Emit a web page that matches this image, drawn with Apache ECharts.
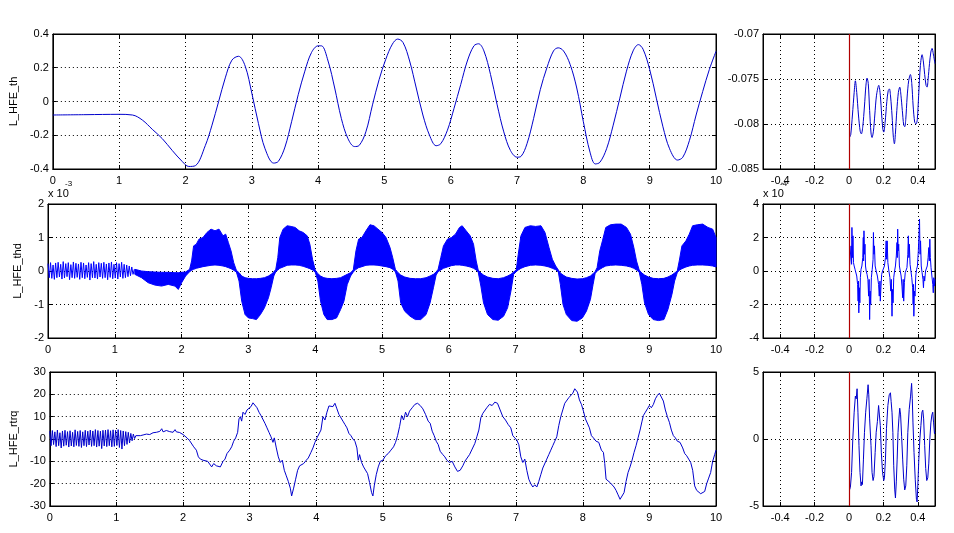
<!DOCTYPE html>
<html><head><meta charset="utf-8">
<script src="https://cdn.jsdelivr.net/npm/echarts@6/dist/echarts.min.js"></script>
<style>html,body{margin:0;padding:0;background:#fff}#c{width:954px;height:533px}</style>
</head><body><div id="c"></div>
<script>
// ---------- tick labels ----------
const leftXTicks = [0,1,2,3,4,5,6,7,8,9,10];
const rightXTicks = [-0.4,-0.2,0,0.2,0.4];
const yNames = ['L_HFE_th','L_HFE_thd','L_HFE_rtrq'];

// ---------- L_HFE_th (full range) ----------
const thT = [0,0.5,1.0,1.2,1.35,1.5,1.65,1.8,1.95,2.05,2.15,2.3,2.4,2.5,2.6,2.7,2.8,2.9,3.0,3.1,3.2,3.33,3.4,3.5,3.6,3.7,3.8,3.9,4.0,4.05,4.15,4.25,4.35,4.45,4.55,4.62,4.72,4.82,4.92,5.02,5.12,5.2,5.28,5.38,5.48,5.58,5.68,5.78,5.85,5.95,6.05,6.15,6.25,6.35,6.42,6.5,6.6,6.7,6.8,6.9,7.0,7.06,7.15,7.25,7.35,7.45,7.55,7.62,7.7,7.8,7.9,8.0,8.1,8.18,8.25,8.35,8.45,8.55,8.65,8.75,8.83,8.9,9.0,9.1,9.2,9.3,9.42,9.5,9.6,9.7,9.8,9.9,10.0];
const thV = [-0.08,-0.078,-0.076,-0.08,-0.11,-0.165,-0.22,-0.29,-0.355,-0.385,-0.38,-0.26,-0.14,0.0,0.14,0.245,0.268,0.21,0.05,-0.13,-0.28,-0.365,-0.355,-0.27,-0.12,0.04,0.18,0.29,0.33,0.33,0.24,0.08,-0.1,-0.22,-0.267,-0.26,-0.18,-0.02,0.13,0.25,0.34,0.37,0.35,0.24,0.08,-0.08,-0.2,-0.262,-0.25,-0.17,-0.04,0.1,0.24,0.33,0.342,0.3,0.16,-0.02,-0.18,-0.29,-0.33,-0.325,-0.25,-0.1,0.07,0.2,0.3,0.318,0.3,0.22,0.08,-0.12,-0.3,-0.37,-0.36,-0.28,-0.14,0.02,0.18,0.3,0.337,0.31,0.19,0.02,-0.15,-0.28,-0.347,-0.33,-0.23,-0.08,0.06,0.19,0.297];

// ---------- L_HFE_th (zoomed start) ----------
const thZT = [0.003,0.01,0.02,0.03,0.037,0.045,0.055,0.065,0.072,0.08,0.09,0.098,0.105,0.112,0.12,0.128,0.134,0.142,0.15,0.16,0.173,0.182,0.19,0.197,0.202,0.21,0.22,0.228,0.235,0.242,0.25,0.258,0.264,0.27,0.278,0.287,0.295,0.302,0.31,0.318,0.324,0.33,0.338,0.347,0.357,0.365,0.373,0.382,0.39,0.397,0.405,0.415,0.425,0.432,0.44,0.448,0.454,0.46,0.468,0.476,0.483,0.49,0.5];
const thZV = [-0.0815,-0.0812,-0.079,-0.0765,-0.0752,-0.0765,-0.079,-0.0808,-0.0811,-0.0803,-0.078,-0.0758,-0.0749,-0.0755,-0.0785,-0.081,-0.0815,-0.0808,-0.079,-0.0768,-0.0757,-0.0768,-0.079,-0.0806,-0.0809,-0.0798,-0.0775,-0.0763,-0.0761,-0.077,-0.079,-0.0815,-0.0822,-0.081,-0.0785,-0.0765,-0.0759,-0.0768,-0.0785,-0.0801,-0.0803,-0.0795,-0.077,-0.0752,-0.0745,-0.0755,-0.078,-0.0798,-0.08,-0.0795,-0.0768,-0.0735,-0.0723,-0.073,-0.0745,-0.0757,-0.0759,-0.075,-0.0733,-0.072,-0.0716,-0.0722,-0.0733];

// ---------- L_HFE_thd (x1e-3) ----------
const earlyStep = 0.019;
const thdEarly = [0.22,-0.2,0.25,-0.22,0.18,-0.25,0.24,-0.2,0.26,-0.18,0.2,-0.24,0.28,-0.21,0.22,-0.17,0.25,-0.26,0.19,-0.2,0.27,-0.22,0.23,-0.19,0.21,-0.25,0.26,-0.2,0.24,-0.23,0.18,-0.19,0.25,-0.27,0.22,-0.2,0.28,-0.21,0.2,-0.24,0.25,-0.18,0.23,-0.22,0.26,-0.2,0.21,-0.26,0.24,-0.19,0.27,-0.23,0.2,-0.21,0.25,-0.24,0.22,-0.18,0.26,-0.22,0.2,-0.2,0.18,-0.17,0.15,-0.14,0.12,-0.1,0.05];
const thdT  = [1.30,1.40,1.50,1.60,1.70,1.80,1.90,1.95,2.00,2.06,2.12,2.15,2.18,2.22,2.26,2.32,2.38,2.44,2.50,2.56,2.62,2.66,2.70,2.74,2.78,2.82,2.86,2.90,2.95,3.00,3.06,3.12,3.18,3.24,3.30,3.34,3.38,3.41,3.44,3.47,3.52,3.58,3.64,3.70,3.76,3.82,3.88,3.92,3.96,4.00,4.04,4.08,4.13,4.18,4.25,4.32,4.38,4.43,4.48,4.53,4.57,4.61,4.65,4.70,4.76,4.82,4.88,4.94,5.00,5.06,5.12,5.16,5.20,5.24,5.28,5.34,5.42,5.50,5.58,5.66,5.72,5.77,5.81,5.84,5.88,5.92,5.98,6.04,6.10,6.16,6.20,6.26,6.32,6.37,6.41,6.44,6.48,6.52,6.58,6.66,6.74,6.82,6.88,6.93,6.97,7.01,7.04,7.08,7.14,7.22,7.30,7.38,7.44,7.50,7.55,7.60,7.64,7.67,7.71,7.76,7.84,7.92,8.00,8.06,8.12,8.16,8.19,8.22,8.26,8.30,8.35,8.42,8.50,8.58,8.66,8.72,8.77,8.81,8.85,8.89,8.93,8.99,9.06,9.14,9.22,9.28,9.34,9.38,9.42,9.45,9.49,9.55,9.60,9.65,9.72,9.80,9.88,9.95,10.00];
const thdHi = [0.05,0.0,-0.02,-0.03,-0.04,-0.04,-0.05,-0.05,-0.04,-0.03,0.05,0.3,0.75,0.8,0.95,1.0,1.15,1.25,1.2,1.25,1.05,1.1,0.85,0.6,0.25,0.02,-0.05,-0.15,-0.2,-0.22,-0.23,-0.23,-0.22,-0.2,-0.15,-0.1,-0.03,0.05,0.4,1.0,1.25,1.35,1.33,1.3,1.2,1.15,1.05,0.8,0.35,0.03,-0.08,-0.15,-0.2,-0.22,-0.23,-0.22,-0.2,-0.15,-0.1,-0.05,0.03,0.6,0.95,1.0,1.2,1.38,1.35,1.25,1.15,1.0,0.7,0.4,0.05,-0.05,-0.12,-0.18,-0.22,-0.23,-0.23,-0.2,-0.15,-0.1,-0.03,0.05,0.4,0.75,0.95,1.0,1.1,1.3,1.35,1.2,1.05,0.8,0.3,0.03,-0.06,-0.12,-0.18,-0.22,-0.23,-0.2,-0.15,-0.1,-0.03,0.03,0.5,1.05,1.3,1.35,1.33,1.35,1.15,0.7,0.35,0.15,0.03,-0.06,-0.12,-0.18,-0.22,-0.24,-0.23,-0.2,-0.15,-0.08,-0.02,0.1,0.6,0.9,1.3,1.38,1.4,1.4,1.3,1.1,0.7,0.3,0.03,-0.06,-0.12,-0.18,-0.22,-0.23,-0.22,-0.18,-0.12,-0.06,0.0,0.3,0.75,0.9,1.1,1.35,1.38,1.4,1.3,1.25,1.0];
const thdLo = [-0.1,-0.2,-0.35,-0.42,-0.45,-0.4,-0.45,-0.55,-0.35,-0.15,-0.02,0.02,0.05,0.08,0.1,0.13,0.15,0.17,0.18,0.17,0.15,0.13,0.1,0.07,0.02,-0.03,-0.3,-0.9,-1.3,-1.4,-1.42,-1.45,-1.3,-1.1,-0.8,-0.5,-0.15,-0.02,0.03,0.08,0.12,0.17,0.18,0.18,0.17,0.14,0.1,0.07,0.03,-0.03,-0.3,-0.9,-1.3,-1.45,-1.45,-1.4,-1.15,-0.9,-0.4,-0.15,-0.03,0.05,0.1,0.13,0.17,0.18,0.18,0.17,0.15,0.13,0.1,0.05,-0.02,-0.3,-0.95,-1.2,-1.35,-1.45,-1.45,-1.3,-0.95,-0.5,-0.12,-0.02,0.03,0.08,0.12,0.16,0.18,0.18,0.17,0.15,0.12,0.08,0.03,-0.03,-0.45,-0.95,-1.3,-1.45,-1.47,-1.35,-1.1,-0.6,-0.1,-0.02,0.03,0.08,0.13,0.17,0.18,0.17,0.15,0.12,0.08,0.04,-0.03,-0.4,-1.0,-1.3,-1.48,-1.5,-1.4,-1.2,-0.85,-0.4,-0.08,0.0,0.05,0.1,0.15,0.17,0.18,0.17,0.15,0.12,0.08,0.03,-0.03,-0.4,-0.95,-1.3,-1.45,-1.48,-1.45,-1.15,-0.7,-0.3,-0.05,0.02,0.07,0.12,0.15,0.17,0.18,0.18,0.17,0.15,0.12];

// ---------- L_HFE_thd (zoomed start, x1e-4) ----------
const thdZT = [0.003,0.008,0.012,0.015,0.017,0.02,0.023,0.026,0.03,0.035,0.04,0.045,0.05,0.053,0.055,0.057,0.06,0.063,0.066,0.07,0.075,0.08,0.083,0.085,0.087,0.09,0.093,0.096,0.1,0.105,0.11,0.114,0.117,0.12,0.123,0.126,0.13,0.135,0.14,0.142,0.145,0.148,0.152,0.158,0.165,0.172,0.176,0.18,0.182,0.186,0.19,0.195,0.2,0.206,0.212,0.216,0.219,0.222,0.226,0.232,0.238,0.243,0.246,0.25,0.253,0.256,0.26,0.265,0.27,0.275,0.279,0.281,0.283,0.286,0.289,0.293,0.298,0.303,0.308,0.312,0.315,0.318,0.322,0.327,0.332,0.337,0.342,0.345,0.348,0.351,0.355,0.36,0.365,0.37,0.373,0.375,0.377,0.38,0.384,0.388,0.393,0.398,0.403,0.407,0.41,0.413,0.416,0.42,0.425,0.43,0.433,0.436,0.44,0.445,0.45,0.455,0.46,0.464,0.467,0.47,0.473,0.477,0.482,0.487,0.49,0.493,0.497,0.5];
const thdZV = [0.3,0.2,1.5,0.4,2.6,0.8,2.1,0.5,0.3,0.1,0.0,-0.3,-0.8,-1.8,-0.6,-2.5,-1.0,-1.9,-0.4,0.1,0.3,0.8,2.0,0.6,2.4,1.0,1.6,0.3,0.0,-0.2,-0.5,-1.5,-0.5,-2.9,-1.2,-2.0,-0.4,0.1,0.7,2.3,1.0,1.5,0.3,0.0,-0.3,-0.8,-1.5,-0.6,-1.8,-0.9,-0.2,0.0,0.0,0.3,0.8,1.8,0.7,1.8,0.5,0.0,-0.4,-1.2,-0.5,-2.7,-1.1,-1.9,-0.4,0.0,0.3,0.9,1.7,0.8,2.5,1.2,1.6,0.3,0.0,-0.3,-0.9,-1.6,-0.5,-1.8,-0.7,-0.1,0.0,0.2,1.0,2.1,0.8,1.6,0.4,0.0,-0.4,-1.0,-2.0,-0.8,-2.7,-1.2,-1.5,-0.3,0.1,0.3,1.2,2.2,3.1,1.0,1.8,0.3,-0.1,-0.5,-1.0,-0.3,-0.6,0.0,0.1,0.3,0.8,1.4,0.6,1.9,0.8,0.2,-0.3,-0.8,-1.3,-0.4,-0.9,-0.5];

// ---------- L_HFE_rtrq ----------
const rtrqEarly = [3.5,-3,3.8,-2.5,3.2,-3.4,4,-3,2.8,-4,3.6,-3.2,3.9,-2.8,3.3,-3.6,3.7,-3.1,3,-3.5,4.1,-2.9,3.4,-3.3,3.8,-3.8,3.2,-3,3.9,-3.4,3.5,-2.7,4,-3.3,3.6,-3,4.2,-3.6,3.8,-3.2,3.5,-4.3,3.9,-3.1,4,-3.4,4.2,-3,3.7,-3.5,4.1,-3.3,3.9,-2.9,4.2,-3.8,3.8,-4.5,3.6,-3,3.3,-2.4,3,-1.8,2.5,-0.8,2.2,0.2,1.5,0.8];
const rtrqT = [1.32,1.36,1.40,1.45,1.5,1.55,1.6,1.65,1.68,1.7,1.75,1.8,1.85,1.88,1.9,1.95,2.0,2.03,2.06,2.1,2.13,2.16,2.2,2.23,2.26,2.3,2.33,2.37,2.4,2.43,2.46,2.5,2.53,2.56,2.6,2.63,2.66,2.7,2.73,2.76,2.79,2.82,2.84,2.86,2.88,2.9,2.93,2.96,2.99,3.02,3.05,3.08,3.11,3.14,3.17,3.2,3.23,3.26,3.29,3.32,3.35,3.37,3.4,3.43,3.46,3.49,3.52,3.55,3.58,3.61,3.63,3.66,3.69,3.72,3.75,3.78,3.81,3.85,3.88,3.92,3.95,3.98,4.01,4.04,4.07,4.1,4.13,4.16,4.19,4.22,4.25,4.28,4.31,4.34,4.37,4.4,4.43,4.46,4.49,4.52,4.55,4.58,4.61,4.63,4.65,4.68,4.71,4.74,4.77,4.8,4.83,4.85,4.87,4.9,4.93,4.96,5.0,5.04,5.08,5.12,5.16,5.19,5.22,5.25,5.28,5.31,5.34,5.37,5.4,5.44,5.48,5.52,5.56,5.6,5.64,5.68,5.71,5.74,5.77,5.8,5.83,5.86,5.9,5.93,5.96,6.0,6.04,6.08,6.12,6.16,6.2,6.23,6.26,6.3,6.34,6.38,6.41,6.44,6.47,6.5,6.53,6.56,6.6,6.64,6.68,6.72,6.76,6.8,6.84,6.88,6.92,6.95,6.98,7.01,7.04,7.07,7.1,7.13,7.16,7.19,7.22,7.25,7.28,7.31,7.34,7.37,7.4,7.43,7.46,7.49,7.52,7.55,7.58,7.61,7.64,7.67,7.7,7.73,7.76,7.79,7.82,7.85,7.88,7.9,7.92,7.95,7.98,8.01,8.04,8.07,8.1,8.13,8.16,8.2,8.24,8.28,8.31,8.33,8.35,8.38,8.41,8.44,8.47,8.5,8.53,8.56,8.59,8.62,8.65,8.68,8.71,8.74,8.77,8.8,8.83,8.86,8.89,8.91,8.94,8.97,9.0,9.03,9.06,9.09,9.12,9.15,9.18,9.21,9.24,9.27,9.3,9.33,9.36,9.39,9.42,9.46,9.5,9.53,9.56,9.59,9.62,9.65,9.68,9.71,9.74,9.77,9.8,9.83,9.86,9.89,9.92,9.95,9.98,10.0];
const rtrqV = [0.8,1.5,1.8,2.2,2.0,2.8,3.0,3.4,4.6,3.2,3.8,3.3,3.0,4.2,3.2,2.9,2.0,1.4,0.5,-0.8,-1.5,-3.5,-5,-8,-9,-9.5,-8.8,-10,-10.5,-12.5,-11,-12,-11.5,-12.5,-10,-9,-6.5,-5,-3.5,-1,0.5,3,9,10,8,12,11,13,12.5,14.5,16.2,15.5,14,12,10.5,10,7,5,3,1,-1.5,0.5,-4,-8,-10.5,-9.5,-14,-16.5,-19,-22,-25.5,-22,-18,-14,-12,-12.5,-11,-9.5,-8.5,-6,-4,-1.5,0.5,1,4,10,8.5,12,14.8,15.5,14.5,16,13.5,11,11.5,8,6.5,5,2.5,1.5,0,-1,-4,-9.5,-7,-10.5,-12.5,-13,-15.5,-19.5,-24,-25.5,-21,-16,-12.5,-10,-9.5,-7.5,-6.5,-5,-3.5,-1.5,1.5,5.5,10.5,8.5,12,10,12.5,14,15.5,16,15,13.5,11,8,7,3.5,1.5,-1,-2.5,-5.5,-7,-8,-9.5,-10.5,-10,-12.5,-14.5,-14,-12,-10,-10.5,-7,-4.5,-2,1,4,9.5,11.5,11,14,15.5,15,16.5,16,13,10,8.5,6.5,5,1.5,0.5,-0.5,-2.5,-8,-10.5,-9,-14,-18,-20,-21.5,-20.5,-21.5,-19,-16,-13,-12.5,-9,-7,-5,-3,-1,1,6,10,13,16,15.5,18.5,19,20.5,22.5,23,21,17.5,15.5,12.5,9,8.5,5,1.5,0.5,-1,-1.5,-5,-6,-11,-18,-18.5,-19.5,-20,-21.5,-23,-25,-27,-26.5,-24,-19,-15,-12.5,-9.5,-6,-3,0.5,4,8,10.5,12,13.5,15,14,15.5,18,19.5,20.5,20.3,17,13,10,7.5,4,1.5,0.5,-1,-1.5,-4,-6.5,-7.5,-9,-10.5,-14,-21,-23,-23.5,-24.5,-24,-23.5,-20,-17.5,-15,-10,-7,-5];

// ---------- L_HFE_rtrq (zoomed start) ----------
const rtrqZT = [0.003,0.008,0.015,0.022,0.03,0.037,0.042,0.047,0.052,0.058,0.064,0.07,0.074,0.078,0.084,0.09,0.097,0.104,0.111,0.115,0.12,0.124,0.128,0.134,0.14,0.145,0.152,0.158,0.165,0.172,0.177,0.182,0.188,0.195,0.202,0.206,0.212,0.218,0.226,0.234,0.241,0.245,0.25,0.255,0.26,0.266,0.27,0.275,0.28,0.285,0.29,0.295,0.3,0.306,0.312,0.318,0.324,0.33,0.336,0.342,0.35,0.358,0.364,0.368,0.372,0.378,0.385,0.392,0.396,0.4,0.406,0.412,0.418,0.424,0.429,0.434,0.44,0.446,0.452,0.458,0.464,0.47,0.476,0.482,0.487,0.492,0.497,0.5];
const rtrqZV = [-3.8,-3.6,-2.5,0.0,2.0,3.2,3.0,3.75,2.0,-0.5,-2.5,-3.5,-3.2,-3.4,-1.5,0.5,2.0,3.0,4.05,3.3,1.5,1.4,-0.5,-2.5,-3.1,-2.8,-1.0,0.5,1.3,2.5,2.4,1.0,-1.0,-2.5,-3.1,-2.9,-1.5,0.8,2.5,3.3,3.45,2.8,2.0,0.5,-2.0,-3.8,-4.4,-3.2,-1.5,0.5,1.5,2.3,1.8,0.2,-1.5,-3.0,-3.8,-3.5,-2.0,0.5,2.2,3.2,4.15,3.0,1.2,-1.0,-3.0,-4.5,-4.7,-3.5,-1.5,0.0,1.0,2.0,2.15,1.5,-0.5,-2.2,-3.1,-2.9,-1.8,0.0,1.2,1.8,2.0,1.2,0.4,0.5];

// ---------- build ----------
const zip = (a, b) => a.map((x, i) => [x, b[i]]);
const FONT = 'Liberation Sans, Arial, Helvetica, sans-serif';
const BLUE = '#0000cc';

const gridDefs = [
  {left: 48, top: 34, width: 668, height: 135},
  {left: 763, top: 34, width: 172, height: 135},
  {left: 48, top: 204, width: 668, height: 134},
  {left: 763, top: 204, width: 172, height: 134},
  {left: 48, top: 372, width: 668, height: 134},
  {left: 763, top: 372, width: 172, height: 134}
];
const yRanges = [
  {min: -0.4, max: 0.4, interval: 0.2},
  {min: -0.085, max: -0.07, interval: 0.005},
  {min: -2, max: 2, interval: 1},
  {min: -4, max: 4, interval: 2},
  {min: -30, max: 30, interval: 10},
  {min: -5, max: 5, interval: 5}
];
const nameGaps = [31, 21, 30];

const xAxes = [], yAxes = [];
gridDefs.forEach((g, i) => {
  const isRight = i % 2 === 1;
  const xBase = isRight
    ? {min: -0.5, max: 0.5, axisTick: {inside: true, length: 4, customValues: rightXTicks, lineStyle: {color: '#000'}},
       axisLabel: {customValues: rightXTicks}}
    : {min: 0, max: 10, interval: 1, axisTick: {inside: true, length: 4, lineStyle: {color: '#000'}}, axisLabel: {}};
  xAxes.push(Object.assign({}, xBase, {
    type: 'value', gridIndex: i, position: 'bottom',
    axisLine: {onZero: false, lineStyle: {color: '#000', width: 1}},
    axisLabel: Object.assign({color: '#000', fontSize: 11, fontFamily: FONT, margin: 6}, xBase.axisLabel),
    splitLine: {show: true, lineStyle: {color: '#000', type: [1, 3], width: 1}}
  }));
  xAxes.push(Object.assign({}, xBase, {
    type: 'value', gridIndex: i, position: 'top',
    axisLine: {onZero: false, lineStyle: {color: '#000', width: 1}},
    axisLabel: {show: false}, splitLine: {show: false}
  }));
  const yr = yRanges[i];
  const yl = {
    type: 'value', gridIndex: i, position: 'left', min: yr.min, max: yr.max, interval: yr.interval,
    axisLine: {show: true, onZero: false, lineStyle: {color: '#000', width: 1}},
    axisTick: {show: true, inside: true, length: 4, lineStyle: {color: '#000'}},
    axisLabel: {color: '#000', fontSize: 11, fontFamily: FONT, margin: 4},
    splitLine: {show: true, lineStyle: {color: '#000', type: [1, 3], width: 1}}
  };
  if (!isRight) {
    yl.name = yNames[i / 2];
    yl.nameLocation = 'middle';
    yl.nameRotate = 90;
    yl.nameGap = nameGaps[i / 2];
    yl.nameTextStyle = {color: '#000', fontSize: 11, fontFamily: FONT};
  }
  yAxes.push(yl);
  yAxes.push({
    type: 'value', gridIndex: i, position: 'right', min: yr.min, max: yr.max, interval: yr.interval,
    axisLine: {show: true, onZero: false, lineStyle: {color: '#000', width: 1}},
    axisTick: {show: true, inside: true, length: 4, lineStyle: {color: '#000'}},
    axisLabel: {show: false}, splitLine: {show: false}
  });
});

function lineSeries(gi, data, smooth) {
  return {
    type: 'line', xAxisIndex: gi * 2, yAxisIndex: gi * 2, data: data,
    showSymbol: false, symbol: 'none', smooth: smooth || false,
    lineStyle: {color: BLUE, width: 1}, itemStyle: {color: BLUE}, z: 3
  };
}
function redLine(gi) {
  return {
    type: 'line', xAxisIndex: gi * 2, yAxisIndex: gi * 2, data: [], z: 4,
    markLine: {silent: true, symbol: 'none', animation: false, label: {show: false},
      lineStyle: {color: '#b00000', type: 'solid', width: 1.2}, data: [{xAxis: 0}]}
  };
}

const series = [
  lineSeries(0, zip(thT, thV), 0.35),
  lineSeries(1, zip(thZT, thZV), 0.3), redLine(1),
  Object.assign(lineSeries(2, thdEarly.map((v, i) => [i * earlyStep, v])), {lineStyle: {color: '#0000ff', width: 1}}),
  {
    type: 'custom', xAxisIndex: 4, yAxisIndex: 4, data: [[5, 0]], z: 3,
    renderItem: function (params, api) {
      const pts = [];
      for (let i = 0; i < thdT.length; i++) pts.push(api.coord([thdT[i], thdHi[i]]));
      for (let i = thdT.length - 1; i >= 0; i--) pts.push(api.coord([thdT[i], thdLo[i]]));
      return {type: 'polygon', shape: {points: pts}, style: {fill: '#0000ff', stroke: '#0000ff', lineWidth: 1}};
    }
  },
  Object.assign(lineSeries(3, zip(thdZT, thdZV)), {lineStyle: {color: '#0000ff', width: 1}}), redLine(3),
  lineSeries(4, rtrqEarly.map((v, i) => [i * earlyStep, v]).concat(zip(rtrqT, rtrqV))),
  lineSeries(5, zip(rtrqZT, rtrqZV)), redLine(5)
];

const chart = echarts.init(document.getElementById('c'));
chart.setOption({
  backgroundColor: '#fff',
  animation: false,
  grid: gridDefs.map(g => Object.assign({show: true, borderColor: '#000', borderWidth: 1, backgroundColor: '#fff', containLabel: false}, g)),
  xAxis: xAxes,
  yAxis: yAxes,
  series: series,
  graphic: [
    {type: 'text', left: 48, top: 188, style: {text: 'x 10', fill: '#000', font: '11px ' + FONT}},
    {type: 'text', left: 65, top: 180, style: {text: '-3', fill: '#000', font: '8px ' + FONT}},
    {type: 'text', left: 763, top: 188, style: {text: 'x 10', fill: '#000', font: '11px ' + FONT}},
    {type: 'text', left: 780, top: 180, style: {text: '-4', fill: '#000', font: '8px ' + FONT}}
  ]
});
</script></body></html>
